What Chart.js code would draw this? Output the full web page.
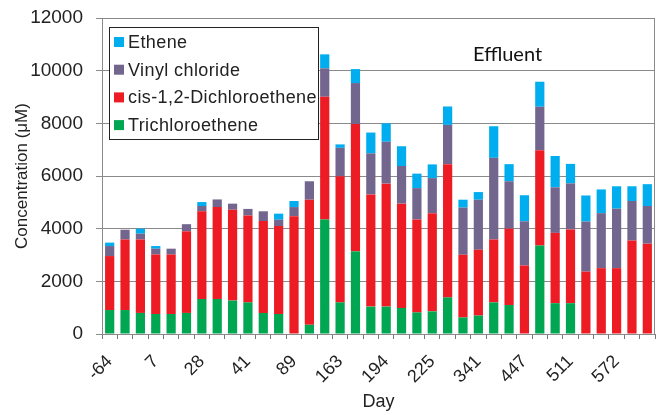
<!DOCTYPE html>
<html>
<head>
<meta charset="utf-8">
<script src="https://cdn.jsdelivr.net/npm/chart.js@4.4.1/dist/chart.umd.min.js"></script>
<style>
  html, body { margin: 0; padding: 0; background: #fff; }
  #wrap { width: 664px; height: 415px; position: relative; }
</style>
</head>
<body>
<div id="wrap"><canvas id="myChart"></canvas></div>
<script>
// sampling days (only every third one is labelled on the axis)
var days = ['-64', '', '', '7', '', '', '28', '', '', '41', '', '', '89', '', '', '163', '', '',
            '194', '', '', '225', '', '', '341', '', '', '447', '', '', '511', '', '', '572', '', ''];

// concentrations in uM
var trichloroethene = [910, 910, 800, 760, 760, 800, 1330, 1330, 1270, 1200, 800, 760, 0, 350, 4350, 1200, 3140, 1040,
                       1040, 990, 820, 860, 1390, 630, 700, 1200, 1100, 0, 3360, 1170, 1170, 0, 0, 0, 0, 0];
var dichloroethene = [2050, 2680, 2790, 2260, 2260, 3100, 3330, 3490, 3450, 3300, 3490, 3340, 4470, 4750, 4660, 4790, 4830, 4260,
                      4670, 3960, 3530, 3730, 5060, 2380, 2500, 2390, 2900, 2600, 3620, 2670, 2800, 2370, 2500, 2500, 3550, 3430];
var vinylChloride = [380, 370, 220, 220, 220, 270, 200, 290, 230, 250, 370, 240, 350, 700, 1080, 1080, 1560, 1560,
                     1590, 1430, 1190, 1330, 1490, 1790, 1900, 3100, 1800, 1680, 1650, 1730, 1750, 1900, 2090, 2260, 1500, 1430];
var ethene = [130, 0, 190, 100, 0, 0, 150, 0, 0, 0, 0, 230, 230, 0, 530, 130, 530, 790,
              700, 750, 550, 520, 700, 300, 290, 1200, 650, 990, 950, 1190, 740, 990, 900, 850, 560, 830];

var yTicks = [0, 2000, 4000, 6000, 8000, 10000, 12000];

var FONT = "'Liberation Sans', Arial, sans-serif";

// legend in a box inside the plot + "Effluent" note + frame round the plot
var boxPlugin = {
  id: 'boxPlugin',
  afterDraw: function(chart) {
    var ctx = chart.ctx;
    var a = chart.chartArea;
    ctx.save();
    ctx.strokeStyle = '#8a8a8a';
    ctx.lineWidth = 1;
    ctx.strokeRect(a.left + 0.5, a.top + 0.5, a.right - a.left - 1, a.bottom - a.top);

    // legend
    var lx = 109, ly = 27, lw = 209, lh = 112;
    ctx.fillStyle = '#fff';
    ctx.fillRect(lx, ly, lw, lh);
    ctx.strokeStyle = '#222';
    ctx.strokeRect(lx + 0.5, ly + 0.5, lw, lh);
    ctx.font = '18px ' + FONT;
    ctx.letterSpacing = '0.4px';
    ctx.textBaseline = 'middle';
    var sets = chart.data.datasets.slice().reverse();
    sets.forEach(function(ds, i) {
      var y = 42 + i * 27.7;
      ctx.fillStyle = ds.backgroundColor;
      ctx.fillRect(114, y - 5, 10, 10);
      ctx.fillStyle = '#222';
      ctx.fillText(ds.label, 128, y + 1);
    });

    ctx.letterSpacing = '0px';
    ctx.font = '20px Lato, sans-serif';
    ctx.fillStyle = '#111';
    ctx.fillText('Effluent', 473, 55);
    ctx.restore();
  }
};

var ctx = document.getElementById('myChart');
var myChart = new Chart(ctx, {
  type: 'bar',
  data: {
    labels: days,
    datasets: [
      { label: 'Trichloroethene', data: trichloroethene, backgroundColor: '#00a651' },
      { label: 'cis-1,2-Dichloroethene', data: dichloroethene, backgroundColor: '#ed1c24' },
      { label: 'Vinyl chloride', data: vinylChloride, backgroundColor: '#72668f' },
      { label: 'Ethene', data: ethene, backgroundColor: '#00aeef' }
    ]
  },
  options: {
    responsive: true,
    maintainAspectRatio: false,
    animation: false,
    datasets: {
      bar: { barPercentage: 0.6, categoryPercentage: 1.0 }
    },
    layout: { padding: { left: 0, right: 9, top: 18, bottom: 0 } },
    plugins: {
      legend: { display: false },
      tooltip: { enabled: false }
    },
    scales: {
      x: {
        stacked: true,
        grid: { drawOnChartArea: false, color: '#777', tickLength: 5, offset: true },
        border: { color: '#777' },
        ticks: {
          autoSkip: false,
          maxRotation: 45,
          minRotation: 45,
          color: '#222',
          font: { family: FONT, size: 18 },
          padding: 12
        },
        title: {
          display: true,
          text: 'Day',
          color: '#222',
          font: { family: FONT, size: 18 },
          padding: { top: 0, bottom: 2 }
        },
        afterFit: function(scale) {
          scale.height = 81;
          scale.paddingLeft = 0;
          scale.paddingRight = 0;
        }
      },
      y: {
        stacked: true,
        min: 0,
        max: 12000,
        afterBuildTicks: function(scale) {
          scale.ticks = yTicks.map(function(v) { return { value: v }; });
        },
        grid: { color: '#8a8a8a', tickLength: 6 },
        border: { color: '#777' },
        ticks: {
          color: '#222',
          font: { family: FONT, size: 19 },
          padding: 13,
          callback: function(value) { return String(value); }
        },
        title: {
          display: true,
          text: 'Concentration (μM)',
          color: '#222',
          font: { family: FONT, size: 17 },
          padding: { top: 12, bottom: 0 }
        },
        afterFit: function(scale) {
          scale.width = 102;
          scale.paddingTop = 0;
          scale.paddingBottom = 0;
        }
      }
    }
  },
  plugins: [boxPlugin]
});
</script>
</body>
</html>
